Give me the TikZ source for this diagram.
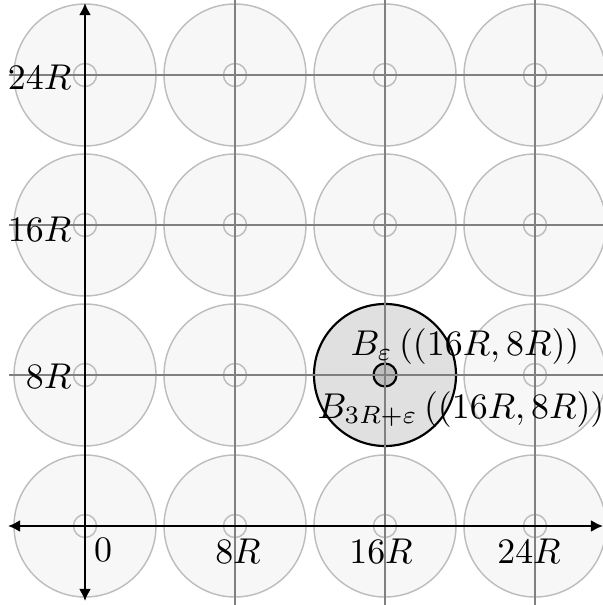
\documentclass[tikz,border=0pt]{standalone}
\usetikzlibrary{arrows.meta}
\definecolor{discfill}{HTML}{F7F7F7}
\definecolor{discline}{HTML}{BDBDBD}
\definecolor{hifill}{HTML}{E0E0E0}
\definecolor{hiinner}{HTML}{BFBFBF}
\definecolor{gridcol}{HTML}{808080}
\tikzset{
  disc/.style={circle, draw=discline, fill=discfill, line width=0.4pt, minimum size=142*0.279pt, inner sep=0pt},
  smalldisc/.style={circle, draw=discline, line width=0.4pt, minimum size=23*0.279pt, inner sep=0pt},
  hidisc/.style={circle, draw=black, fill=hifill, line width=0.6pt, minimum size=142*0.279pt, inner sep=0pt},
  hismall/.style={circle, draw=black, fill=hiinner, line width=0.6pt, minimum size=23*0.279pt, inner sep=0pt},
  gridline/.style={draw=gridcol, line width=0.4pt},
  axis/.style={draw=black, line width=0.6pt, {Latex[length=3.4pt,width=3.4pt]}-{Latex[length=3.4pt,width=3.4pt]}},
  lbl/.style={inner sep=0pt}
}
\begin{document}
\begin{tikzpicture}[x=0.279pt,y=-0.279pt]
\useasboundingbox (0,0) rectangle (603,605);
% discs
\foreach \i/\x in {0/85,1/235,2/385,3/535}{
  \foreach \j/\y in {0/75,1/225,2/375,3/526}{
    \node[disc] (d\i\j) at (\x,\y) {};
    \node[smalldisc] (s\i\j) at (\x,\y) {};
  }
}
% highlighted disc
\node[hidisc] (hd) at (385,375) {};
\node[hismall] (hs) at (385,375) {};
% grid lines
\foreach \y/\n in {75/a,225/b,375/c}{
  \coordinate (hl\n) at (9,\y);
  \coordinate (hr\n) at (603,\y);
  \draw[gridline] (hl\n) -- (hr\n);
}
\foreach \x/\n in {235/a,385/b,535/c}{
  \coordinate (vt\n) at (\x,0);
  \coordinate (vb\n) at (\x,605);
  \draw[gridline] (vt\n) -- (vb\n);
}
% axes
\coordinate (xl) at (8,526);
\coordinate (xr) at (603,526);
\coordinate (yt) at (85,3);
\coordinate (yb) at (85,601);
\draw[axis] (xl) -- (xr);
\draw[axis] (yb) -- (yt);
% labels
\node[lbl, anchor=east] (l24) at (72,77) {$24R$};
\node[lbl, anchor=east] (l16) at (72,229) {$16R$};
\node[lbl, anchor=east] (l8) at (72,376) {$8R$};
\node[lbl, anchor=north] (b0) at (103,538) {$0$};
\node[lbl, anchor=north] (b8) at (238,538) {$8R$};
\node[lbl, anchor=north] (b16) at (381,538) {$16R$};
\node[lbl, anchor=north] (b24) at (529,538) {$24R$};
\node[lbl, anchor=base] (be) at (465,355) {$B_\varepsilon\left((16R,8R)\right)$};
\node[lbl, anchor=base] (bb) at (461,418) {$B_{3R+\varepsilon}\left((16R,8R)\right)$};
\end{tikzpicture}
\end{document}
